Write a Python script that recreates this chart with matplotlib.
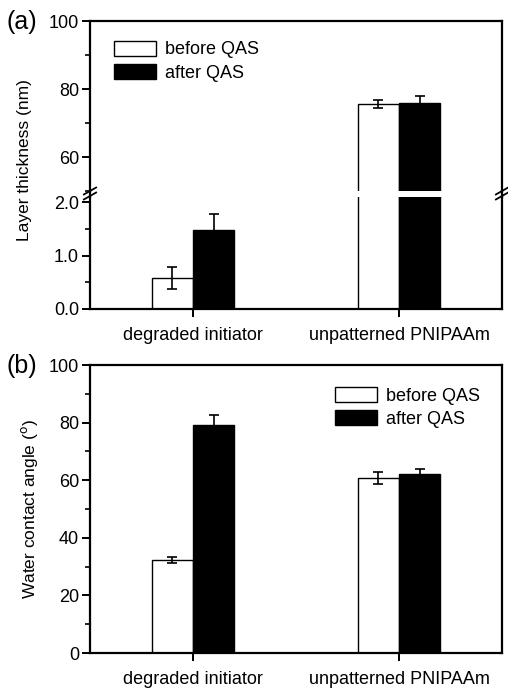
import matplotlib
matplotlib.use('Agg')
import matplotlib.pyplot as plt
import numpy as np
from matplotlib.lines import Line2D
from matplotlib.ticker import MultipleLocator, FormatStrFormatter

plt.rcParams['font.family'] = ['Liberation Sans', 'DejaVu Sans']
plt.rcParams['font.size'] = 12

# data
samples = ['degraded initiator', 'unpatterned PNIPAAm']
series = ['before QAS', 'after QAS']
thick_before = [0.58, 75.6]
thick_before_err = [0.2, 1.1]
thick_after = [1.48, 76.0]
thick_after_err = [0.3, 2.0]
angle_before = [32.3, 60.9]
angle_before_err = [1.2, 2.1]
angle_after = [79.3, 62.0]
angle_after_err = [3.5, 1.9]

W, H = 508, 691
fig = plt.figure(figsize=(W / 100, H / 100), dpi=100)

def fx(px):
    return px / W

def fy(py):
    return 1 - py / H

L, R = fx(90), fx(502)
ax_up = fig.add_axes([L, fy(191), R - L, fy(21) - fy(191)])
ax_lo = fig.add_axes([L, fy(309), R - L, fy(197) - fy(309)])
ax_b = fig.add_axes([L, fy(653), R - L, fy(365) - fy(653)])

x = np.arange(1, len(samples) + 1)
w = 0.2
ekw = dict(elinewidth=1.2, capthick=1.2)


def draw_bars(ax, before, berr, after, aerr):
    ax.bar(x - w / 2, before, w, yerr=berr, color='white', edgecolor='black',
           linewidth=1.0, capsize=3.5, error_kw=ekw, label=series[0])
    ax.bar(x + w / 2, after, w, yerr=aerr, color='black', edgecolor='black',
           linewidth=1.0, capsize=3.5, error_kw=ekw, label=series[1])
    ax.set_xlim(0.5, 2.5)
    for s in ax.spines.values():
        s.set_linewidth(1.6)
    ax.tick_params(which='major', direction='out', length=6, width=1.4,
                   labelsize=13, pad=2)
    ax.tick_params(which='minor', direction='out', length=3.5, width=1.2)
    ax.tick_params(axis='y', which='both', right=False)


def add_legend(ax, loc, anchor):
    ax.legend(loc=loc, frameon=False, fontsize=13, handlelength=2.3,
              handleheight=0.9, handletextpad=0.5, labelspacing=0.3,
              bbox_to_anchor=anchor)


# panel (a) - broken axis
draw_bars(ax_up, thick_before, thick_before_err, thick_after, thick_after_err)
draw_bars(ax_lo, thick_before, thick_before_err, thick_after, thick_after_err)
ax_up.set_ylim(50, 100)
ax_up.set_yticks([60, 80, 100])
ax_up.yaxis.set_minor_locator(MultipleLocator(10))
ax_up.spines['bottom'].set_visible(False)
ax_up.set_xticks([])
ax_lo.set_ylim(0, 2.1)
ax_lo.set_yticks([0, 1, 2])
ax_lo.yaxis.set_major_formatter(FormatStrFormatter('%.1f'))
ax_lo.yaxis.set_minor_locator(MultipleLocator(0.5))
ax_lo.spines['top'].set_visible(False)
ax_lo.set_xticks(x)
ax_lo.set_xticklabels(samples)
ax_lo.tick_params(axis='x', labelsize=13, pad=7)

# join spines across the gap and draw break marks
for xs in (L, R):
    fig.add_artist(Line2D([xs, xs], [fy(191), fy(197)], color='black', lw=1.6))
    for yy in (fy(191), fy(196)):
        fig.add_artist(Line2D([xs - 0.012, xs + 0.012], [yy - 0.005, yy + 0.005],
                              color='black', lw=1.3))

add_legend(ax_up, 'upper left', (0.02, 0.98))
fig.text(fx(25), fy(160), 'Layer thickness (nm)', rotation=90, ha='center',
         va='center', fontsize=12.5)
fig.text(fx(6), fy(22), '(a)', fontsize=18, ha='left', va='center')

# panel (b)
draw_bars(ax_b, angle_before, angle_before_err, angle_after, angle_after_err)
ax_b.set_ylim(0, 100)
ax_b.set_yticks(np.arange(0, 101, 20))
ax_b.yaxis.set_minor_locator(MultipleLocator(10))
ax_b.set_xticks(x)
ax_b.set_xticklabels(samples)
ax_b.tick_params(axis='x', labelsize=13, pad=7)
ax_b.set_ylabel(r'Water contact angle ($^{\rm o}$)', fontsize=12.5, labelpad=6)
add_legend(ax_b, 'upper right', (0.985, 0.98))
fig.text(fx(6), fy(366), '(b)', fontsize=18, ha='left', va='center')

fig.savefig('out.png', dpi=100)
